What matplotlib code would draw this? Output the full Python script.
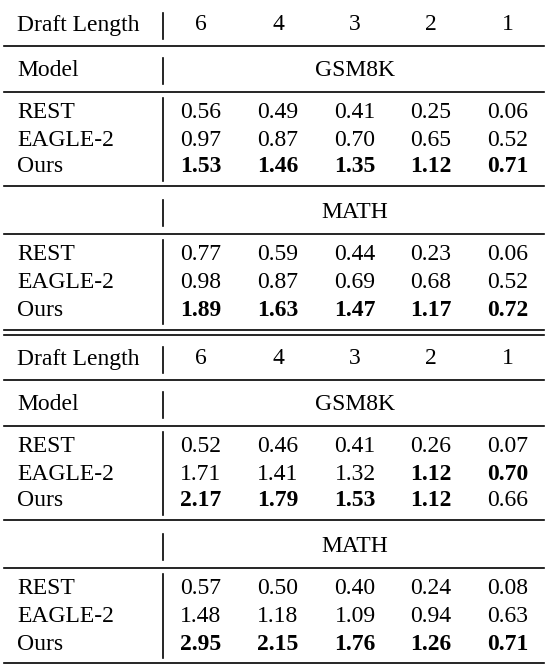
import matplotlib.pyplot as plt

draft_lengths = ["6", "4", "3", "2", "1"]
models = ["REST", "EAGLE-2", "Ours"]

# block 1
b1_gsm8k = [[0.56, 0.49, 0.41, 0.25, 0.06],
            [0.97, 0.87, 0.70, 0.65, 0.52],
            [1.53, 1.46, 1.35, 1.12, 0.71]]
b1_math = [[0.77, 0.59, 0.44, 0.23, 0.06],
           [0.98, 0.87, 0.69, 0.68, 0.52],
           [1.89, 1.63, 1.47, 1.17, 0.72]]
# block 2
b2_gsm8k = [[0.52, 0.46, 0.41, 0.26, 0.07],
            [1.71, 1.41, 1.32, 1.12, 0.70],
            [2.17, 1.79, 1.53, 1.12, 0.66]]
b2_math = [[0.57, 0.50, 0.40, 0.24, 0.08],
           [1.48, 1.18, 1.09, 0.94, 0.63],
           [2.95, 2.15, 1.76, 1.26, 0.71]]

plt.rcParams['font.family'] = ['Liberation Serif', 'DejaVu Serif']
fig = plt.figure(figsize=(5.48, 6.68), dpi=100)
ax = fig.add_axes([0, 0, 1, 1])
ax.set_xlim(0, 548)
ax.set_ylim(668, 0)
ax.axis('off')

col_x = [201, 278, 355, 431, 508]
label_x = 17
sep_x = 163
left, right = 4, 544
fs = 17


def hline(y, lw=1.2):
    ax.plot([left, right], [y, y], color='black', lw=lw)


def vbar(y0, y1):
    ax.plot([sep_x, sep_x], [y0, y1], color='black', lw=1.2)


def data_rows(vals, ys):
    col_max = [max(r[j] for r in vals) for j in range(len(vals[0]))]
    for name, row, y in zip(models, vals, ys):
        ax.text(label_x, y, name, fontsize=fs, va='center', ha='left')
        for j, v in enumerate(row):
            ax.text(col_x[j], y, f"{v:.2f}", fontsize=fs, va='center', ha='center',
                    fontweight='bold' if v == col_max[j] else 'normal')
    vbar(ys[0] - 15, ys[-1] + 14)


def block(y0, gsm, math):
    # header
    ax.text(label_x, y0 + 22, "Draft Length", fontsize=fs, va='center')
    for x, d in zip(col_x, draft_lengths):
        ax.text(x, y0 + 22, d, fontsize=fs, va='center', ha='center')
    vbar(y0 + 10, y0 + 36)
    hline(y0 + 43)
    ax.text(label_x, y0 + 67, "Model", fontsize=fs, va='center')
    ax.text(355, y0 + 67, "GSM8K", fontsize=fs, va='center', ha='center')
    vbar(y0 + 55, y0 + 81)
    hline(y0 + 89)
    data_rows(gsm, [y0 + 110, y0 + 137, y0 + 164])
    hline(y0 + 183)
    ax.text(355, y0 + 209, "MATH", fontsize=fs, va='center', ha='center')
    vbar(y0 + 197, y0 + 223)
    hline(y0 + 231)
    data_rows(math, [y0 + 252, y0 + 279, y0 + 307])


block(3, b1_gsm8k, b1_math)
hline(330)
hline(335)
block(337, b2_gsm8k, b2_math)
hline(663)

fig.savefig("out.png", dpi=100)
